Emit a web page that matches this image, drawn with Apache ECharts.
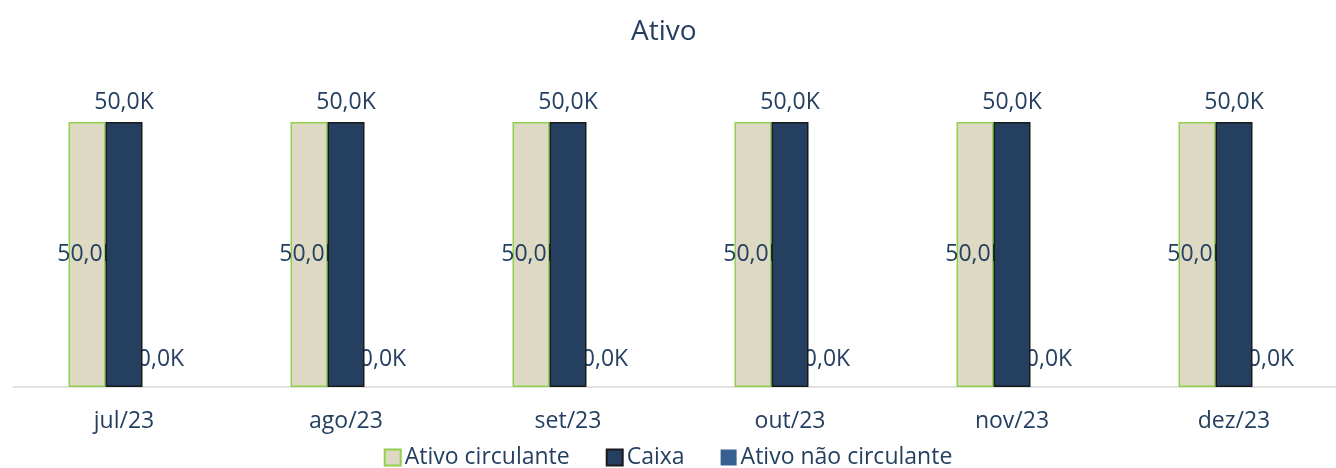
<!DOCTYPE html>
<html>
<head>
<meta charset="utf-8">
<script src="https://cdn.jsdelivr.net/npm/echarts@6/dist/echarts.min.js"></script>
<style>
  html, body { margin: 0; padding: 0; background: #fff; }
  #chart { width: 1336px; height: 468px; }
</style>
</head>
<body>
<div id="chart"></div>
<script>
// dados do grafico
var categorias = ['jul/23', 'ago/23', 'set/23', 'out/23', 'nov/23', 'dez/23'];
var ativoCirculante = [50000, 50000, 50000, 50000, 50000, 50000];
var caixa = [50000, 50000, 50000, 50000, 50000, 50000];
var ativoNaoCirculante = [0, 0, 0, 0, 0, 0];

var corTexto = '#243F60';
var fonte = 'Open Sans';

function fmtK(p) {
    return (p.value / 1000).toFixed(1).replace('.', ',') + 'K';
}

var rotulo = function (pos, dist) {
    return {
        show: true,
        position: pos,
        distance: dist,
        color: corTexto,
        fontFamily: fonte,
        fontSize: 23,
        formatter: fmtK
    };
};

var chart = echarts.init(document.getElementById('chart'));
chart.setOption({
    backgroundColor: '#ffffff',
    animation: false,
    title: {
        text: 'Ativo',
        left: 626,
        top: 13,
        textStyle: { color: corTexto, fontFamily: fonte, fontSize: 28, fontWeight: 'normal' }
    },
    legend: {
        bottom: -6,
        left: 'center',
        icon: 'rect',
        itemWidth: 16,
        itemHeight: 16,
        itemGap: 36,
        textStyle: { color: corTexto, fontFamily: fonte, fontSize: 23, padding: [0, 0, 0, -1] },
        data: ['Ativo circulante', 'Caixa', 'Ativo não circulante']
    },
    grid: { left: 13, width: 1332, top: 122, bottom: 81, outerBoundsMode: 'none' },
    xAxis: {
        type: 'category',
        data: categorias,
        axisTick: { show: false },
        axisLine: { lineStyle: { color: '#D9D9D9', width: 1.5 } },
        axisLabel: { color: corTexto, fontFamily: fonte, fontSize: 23, margin: 23 }
    },
    yAxis: {
        type: 'value',
        min: 0,
        max: 50000,
        show: false,
        splitLine: { show: false }
    },
    series: [
        {
            name: 'Ativo circulante',
            type: 'bar',
            z: 2,
            barWidth: 37,
            barGap: '0%',
            data: ativoCirculante,
            itemStyle: { color: '#DDD9C3', borderColor: '#92D050', borderWidth: 1.5 },
            label: rotulo('inside', 0)
        },
        {
            name: 'Caixa',
            type: 'bar',
            z: 4,
            barWidth: 37,
            barGap: '0%',
            data: caixa,
            itemStyle: { color: '#243F60', borderColor: '#1a1a1a', borderWidth: 1.5 },
            label: rotulo('top', 8)
        },
        {
            name: 'Ativo não circulante',
            type: 'bar',
            z: 3,
            barWidth: 37,
            barGap: '0%',
            data: ativoNaoCirculante,
            itemStyle: { color: '#376092' },
            label: rotulo('insideBottom', 16)
        }
    ]
});
</script>
</body>
</html>
